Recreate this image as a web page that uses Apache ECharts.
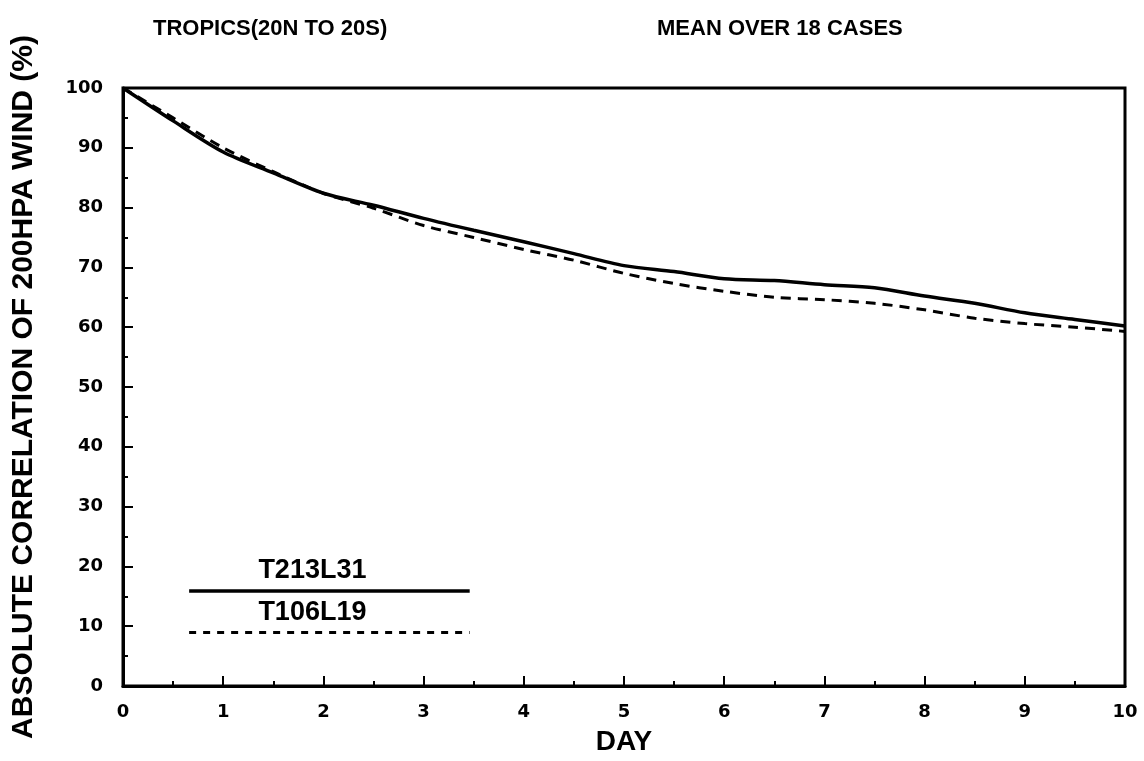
<!DOCTYPE html>
<html><head><meta charset="utf-8">
<script src="https://cdn.jsdelivr.net/npm/echarts@6/dist/echarts.min.js"></script>
<style>html,body{margin:0;padding:0;background:#fff}#c{width:1144px;height:761px}</style>
</head><body><div id="c"></div>
<script>
const days = [0,0.5,1,1.5,2,2.5,3,3.5,4,4.5,5,5.5,6,6.5,7,7.5,8,8.5,9,9.5,10];
const t213 = [100,94.5,89.3,85.8,82.4,80.4,78.2,76.2,74.3,72.3,70.3,69.3,68.1,67.8,67.1,66.6,65.2,64.0,62.4,61.3,60.2];
const t106 = [100,95.0,90.0,86.0,82.4,79.9,77.0,75.0,73.0,71.2,69.0,67.3,66.0,65.0,64.6,64.0,62.9,61.5,60.6,60.0,59.3];
const seriesNames = ['T213L31','T106L19'];
const legendX = [0.66, 3.46];
const legendY = [16.0, 9.0];

const chart = echarts.init(document.getElementById('c'));
const F = 'Liberation Sans, Arial, sans-serif';
const FT = '"DejaVu Sans", sans-serif';
function pairs(xs, ys){ return xs.map((x,i)=>[x, ys[i]]); }
function legendLine(i){
  return {
    silent:true, symbol:['none','none'],
    lineStyle:{color:'#000', width: i===0?3.5:3, type: i===0?'solid':[7,7]},
    label:{show:true, position:'middle', formatter: seriesNames[i], color:'#000', fontFamily:F, fontWeight:'bold', fontSize:27, distance:6, padding:[0,34,0,0]},
    data:[[{coord:[legendX[0], legendY[i]]},{coord:[legendX[1], legendY[i]]}]]
  };
}
chart.setOption({
  backgroundColor:'#fff',
  animation:false,
  title:[
    {text:'TROPICS(20N TO 20S)', left:148, top:13, textStyle:{fontFamily:F, fontWeight:'bold', fontSize:22, color:'#000'}},
    {text:'MEAN OVER 18 CASES', left:652, top:13, textStyle:{fontFamily:F, fontWeight:'bold', fontSize:22, color:'#000'}}
  ],
  grid:{left:123, right:19, top:88, bottom:74, show:true, borderColor:'#000', borderWidth:3, backgroundColor:'transparent'},
  xAxis:{
    type:'value', min:0, max:10, interval:1,
    name:'DAY', nameLocation:'middle', nameGap:42,
    nameTextStyle:{fontFamily:F, fontWeight:'bold', fontSize:28, color:'#000'},
    axisLine:{lineStyle:{color:'#000', width:3}},
    axisTick:{inside:true, length:10, lineStyle:{color:'#000', width:2}},
    minorTick:{show:true, splitNumber:2, length:5, lineStyle:{color:'#000', width:2}},
    splitLine:{show:false},
    axisLabel:{fontFamily:FT, fontWeight:'bold', fontSize:18, color:'#000', margin:17}
  },
  yAxis:{
    type:'value', min:0, max:100, interval:10,
    name:'ABSOLUTE CORRELATION OF 200HPA WIND (%)', nameLocation:'middle', nameGap:84, nameRotate:90,
    nameTextStyle:{fontFamily:F, fontWeight:'bold', fontSize:30, color:'#000'},
    axisLine:{lineStyle:{color:'#000', width:3}},
    axisTick:{inside:true, length:10, lineStyle:{color:'#000', width:2}},
    minorTick:{show:true, splitNumber:2, length:5, lineStyle:{color:'#000', width:2}},
    splitLine:{show:false},
    axisLabel:{fontFamily:FT, fontWeight:'bold', fontSize:18, color:'#000', margin:20}
  },
  series:[
    {name:seriesNames[0], type:'line', data:pairs(days,t213), showSymbol:false, smooth:0.3,
     lineStyle:{color:'#000', width:3.5, type:'solid'}, markLine:legendLine(0)},
    {name:seriesNames[1], type:'line', data:pairs(days,t106), showSymbol:false, smooth:0.3,
     lineStyle:{color:'#000', width:3, type:[10,7]}, markLine:legendLine(1)}
  ]
});
</script></body></html>
